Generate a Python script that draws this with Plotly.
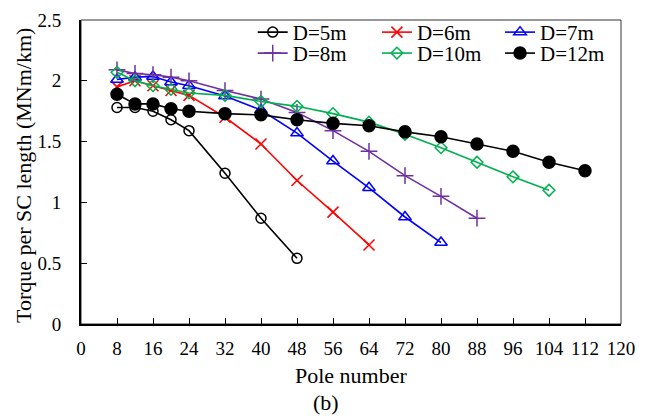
import plotly.graph_objects as go

poles = [8, 12, 16, 20, 24, 32, 40, 48, 56, 64, 72, 80, 88, 96, 104, 112]

d5 = [1.78, 1.78, 1.75, 1.68, 1.59, 1.24, 0.87, 0.54]
d6 = [1.95, 2.00, 1.96, 1.92, 1.88, 1.70, 1.48, 1.18, 0.92, 0.65]
d7 = [2.01, 2.03, 2.035, 1.99, 1.96, 1.875, 1.76, 1.57, 1.34, 1.12, 0.88, 0.67]
d8 = [2.09, 2.06, 2.05, 2.03, 2.00, 1.92, 1.85, 1.74, 1.59, 1.42, 1.22, 1.05, 0.87]
d10 = [2.07, 2.00, 1.96, 1.93, 1.90, 1.88, 1.83, 1.79, 1.73, 1.66, 1.56, 1.45, 1.33, 1.21, 1.10]
d12 = [1.89, 1.81, 1.81, 1.77, 1.75, 1.73, 1.72, 1.68, 1.65, 1.63, 1.58, 1.54, 1.48, 1.42, 1.33, 1.26]

names = ["D=5m", "D=6m", "D=7m", "D=8m", "D=10m", "D=12m"]
series = [d5, d6, d7, d8, d10, d12]
colors = ["#000000", "#FF0000", "#0000FF", "#7030A0", "#00B050", "#000000"]
symbols = ["circle-open", "x-thin", "triangle-up-open", "cross-thin", "diamond-open", "circle"]
sizes = [10, 11, 11, 12, 9, 12]

x_ticks = list(range(0, 121, 8))
y_ticks = [0, 0.5, 1, 1.5, 2, 2.5]

FONT = "Liberation Serif, Times New Roman, serif"

# legend placement (paper coords): 3 columns x 2 rows
leg_x = [0.318, 0.548, 0.776]
leg_y = [0.959, 0.890]

fig = go.Figure()
for i, (name, vals, c, s, sz) in enumerate(zip(names, series, colors, symbols, sizes)):
    lg = "legend" if i == 0 else f"legend{i + 1}"
    fig.add_trace(go.Scatter(
        x=poles[:len(vals)], y=vals, name=name, mode="lines+markers",
        line=dict(color=c, width=1.6),
        marker=dict(symbol=s, size=sz, color=c,
                    line=dict(color=c, width=1.5)),
        legend=lg,
    ))

legends = {}
for i in range(6):
    key = "legend" if i == 0 else f"legend{i + 1}"
    legends[key] = dict(x=leg_x[i % 3], y=leg_y[i // 3], xanchor="left", yanchor="middle",
                        font=dict(family=FONT, size=21), bgcolor="rgba(0,0,0,0)",
                        borderwidth=0, itemwidth=30)

fig.update_layout(
    width=659, height=416,
    margin=dict(l=81, r=38, t=12, b=92),
    paper_bgcolor="white", plot_bgcolor="white",
    font=dict(family=FONT, size=19, color="black"),
    showlegend=True,
    xaxis=dict(range=[0, 120], tickmode="array", tickvals=x_ticks,
               ticks="inside", ticklen=6, tickwidth=1.2, tickcolor="black",
               showline=True, linecolor="black", linewidth=2, automargin=False,
               showgrid=False, zeroline=False, ticklabelstandoff=6),
    yaxis=dict(range=[0, 2.5], tickmode="array", tickvals=y_ticks,
               ticktext=["0", "0.5", "1", "1.5", "2", "2.5"],
               ticks="inside", ticklen=6, tickwidth=1.2, tickcolor="black",
               showline=True, linecolor="black", linewidth=2, automargin=False,
               showgrid=False, zeroline=False, ticklabelstandoff=14),
    shapes=[dict(type="rect", xref="paper", yref="paper", x0=0, x1=1, y0=0, y1=1,
                 line=dict(color="#333333", width=1), layer="below")],
    annotations=[
        dict(text="Torque per SC length (MNm/km)", xref="paper", yref="paper",
             x=0, y=0.5, xanchor="center", yanchor="middle",
             xshift=-58, yshift=-4, textangle=-90, showarrow=False,
             font=dict(family=FONT, size=22)),
        dict(text="Pole number", xref="paper", yref="paper", x=0.5, y=0,
             xanchor="center", yanchor="middle",
             yshift=-51, showarrow=False, font=dict(family=FONT, size=22)),
        dict(text="(b)", xref="paper", yref="paper", x=0.454, y=0,
             xanchor="center", yanchor="middle",
             yshift=-78, showarrow=False, font=dict(family=FONT, size=22)),
    ],
    **legends,
)

fig.write_html("out.html", config={"displayModeBar": False},
               post_script="document.body.style.margin='0';")
